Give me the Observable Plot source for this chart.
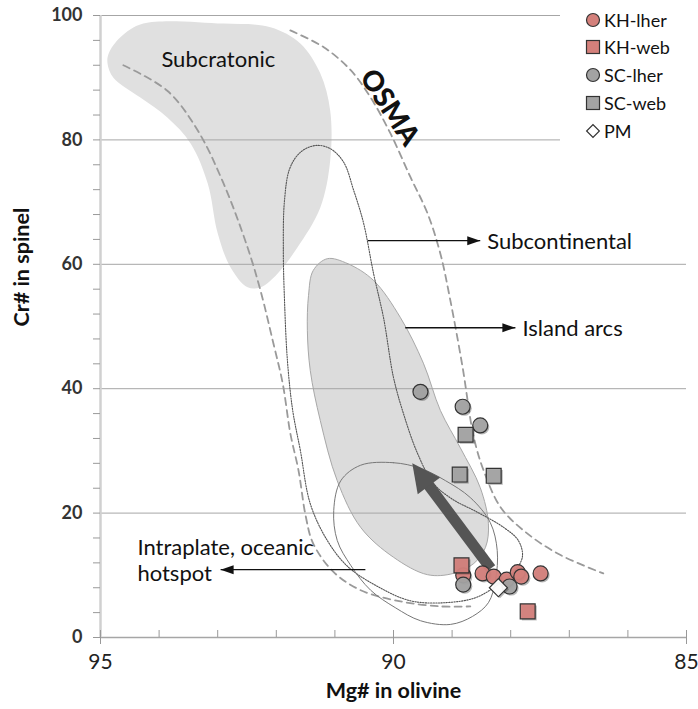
<!DOCTYPE html>
<html><head><meta charset="utf-8">
<script src="https://cdn.jsdelivr.net/npm/d3@7"></script>
<script src="https://cdn.jsdelivr.net/npm/@observablehq/plot@0.6"></script>
<style>
body{margin:0;background:#fff;}
#wrap{position:relative;width:698px;height:709px;font-family:Lato,"Open Sans",sans-serif;}
#legend{position:absolute;left:560px;top:4px;width:126px;height:142px;background:#fff;}
.item{position:absolute;left:24px;height:20px;display:flex;align-items:center;font-size:18px;color:#111;white-space:nowrap;}
.item svg{margin-right:2px;overflow:visible}
</style></head><body><div id="wrap"><div id="legend"></div></div>
<script>
// ---- data (Mg# in olivine, Cr# in spinel) ----
const khLher = [[88.81,10.0],[88.48,10.3],[88.29,9.8],[88.07,9.3],[87.88,10.5],[87.82,9.8],[87.49,10.3]];
const khWeb  = [[88.84,11.6],[87.71,4.2]];
const scLher = [[89.54,39.5],[88.82,37.1],[88.52,34.1],[88.81,8.5],[88.02,8.2]];
const scWeb  = [[88.77,32.6],[88.87,26.2],[88.29,26.0]];
const pm     = [[88.21,8.0]];

// field outlines
const subcratonic = [[94.88,92.3],[94.78,90.0],[94.32,86.8],[93.86,83.6],[93.46,79.4],[93.17,73.0],[93.00,65.0],[92.78,59.5],[92.49,56.3],[92.27,56.3],[91.98,58.5],[91.64,62.7],[91.25,69.1],[91.08,76.7],[91.08,84.7],[91.25,90.7],[91.59,95.5],[92.10,98.1],[92.90,98.7],[94.27,98.7],[94.66,96.5],[94.86,93.9]];
const islandArcs = [[91.13,60.9],[90.78,60.1],[90.34,57.4],[89.88,51.4],[89.49,44.1],[89.20,36.5],[88.86,30.5],[88.52,24.1],[88.38,18.3],[88.43,14.5],[88.63,11.9],[88.98,10.3],[89.42,10.1],[90.00,12.9],[90.56,17.7],[90.96,25.2],[91.25,34.9],[91.42,42.9],[91.47,49.4],[91.45,55.0],[91.37,59.0]];
const subcontinental = [[91.42,21.5],[91.59,30.1],[91.72,36.5],[91.81,44.5],[91.86,54.2],[91.88,62.2],[91.86,70.3],[91.77,75.4],[91.59,78.0],[91.33,79.1],[91.08,78.6],[90.85,76.4],[90.68,71.9],[90.51,66.6],[90.34,58.5],[90.17,51.4],[90.00,41.8],[89.83,36.0],[89.59,29.6],[89.32,24.8],[88.99,22.2],[88.60,20.3],[88.12,17.7],[87.87,15.6],[87.80,13.0],[87.94,10.6],[88.23,8.4],[88.60,6.4],[89.11,5.6],[89.71,5.9],[90.27,8.2],[90.78,11.4],[91.13,15.6]];
const intraplate = [[90.56,27.7],[90.00,28.1],[89.54,27.2],[89.11,25.2],[88.69,22.5],[88.35,18.5],[88.23,14.0],[88.26,9.2],[88.38,5.6],[88.65,3.4],[89.03,2.1],[89.54,2.7],[89.97,4.8],[90.39,7.6],[90.73,11.6],[90.96,15.6],[91.02,20.4],[90.90,25.2]];
const osmaLower = [[94.61,92.0],[93.86,87.9],[93.34,81.5],[92.90,73.0],[92.49,62.7],[92.27,55.8],[92.05,47.3],[91.89,40.8],[91.76,32.8],[91.62,26.8],[91.50,19.6],[91.37,15.1],[91.02,10.5],[90.56,7.6],[89.88,5.8],[89.20,5.0],[88.69,5.0]];
const osmaUpper = [[91.76,97.6],[91.19,94.9],[90.73,91.2],[90.39,86.8],[90.05,81.0],[89.71,74.0],[89.42,68.2],[89.20,61.7],[89.03,54.2],[88.82,43.4],[88.63,32.2],[88.46,26.8],[88.17,20.9],[87.78,17.2],[87.20,13.5],[86.42,10.3]];

// trend arrow (tail -> tip)
const trendArrow = [{x1:88.34, y1:11.1, x2:89.68, y2:28.0}];
// annotation arrows and labels
const pointerArrows = [
  {x1:90.44, y1:63.8, x2:88.52, y2:63.8},
  {x1:89.80, y1:49.8, x2:87.92, y2:49.8},
  {x1:90.48, y1:10.9, x2:92.95, y2:10.9}
];
const fieldLabels = [
  {text:"Subcontinental", x:88.40, y:63.8},
  {text:"Island arcs", x:87.80, y:49.8},
  {text:"Intraplate, oceanic\nhotspot", x:94.37, y:12.5}
];
const subcratonicLabel = [{text:"Subcratonic", x:92.99, y:92.8}];
const osmaLabel = [{text:"OSMA", x:90.07, y:85.2}];

const xTicks = [95, 90, 85];
const xMinor = d3.range(85, 96, 1);
const yTicks = [0, 20, 40, 60, 80, 100];
const yMinor = d3.range(0, 101, 4);

const legendItems = [
  {label:"KH-lher", shape:"circle", fill:"#d4807b"},
  {label:"KH-web", shape:"square", fill:"#d4807b"},
  {label:"SC-lher", shape:"circle", fill:"#a3a3a3"},
  {label:"SC-web", shape:"square", fill:"#a3a3a3"},
  {label:"PM", shape:"diamond", fill:"#ffffff"}
];

// ---- symbols ----
const smallHead = {draw(ctx){ctx.moveTo(0,0);ctx.lineTo(-4.5,13);ctx.lineTo(4.5,13);ctx.closePath();}};
const bigHead = {draw(ctx){ctx.moveTo(0,0);ctx.lineTo(-14,28);ctx.lineTo(14,28);ctx.closePath();}};

const px = d => d[0], py = d => d[1];
const red = "#d4807b", gray = "#a3a3a3", edge = "#333";

function series(data, symbol, fill, r, rotate) {
  return [
    Plot.dot(data, {x:px, y:py, symbol, r, rotate, dx:1.6, dy:1.6, fill:"#000", fillOpacity:0.28, stroke:"none"}),
    Plot.dot(data, {x:px, y:py, symbol, r, rotate, fill, fillOpacity:0.95, stroke:edge, strokeWidth:1.2})
  ];
}

const neck = trendArrow.map(a => ({x1:a.x1, y1:a.y1, x2:a.x1+(a.x2-a.x1)*0.8, y2:a.y1+(a.y2-a.y1)*0.8}));

const chart = Plot.plot({
  width: 698, height: 709,
  marginLeft: 100, marginRight: 12, marginTop: 15, marginBottom: 72,
  x: {domain: [95, 85], label: null},
  y: {domain: [0, 100], label: null},
  style: {fontFamily: "Lato, 'Open Sans', sans-serif", background: "#fff", overflow: "visible"},
  marks: [
    Plot.line(subcratonic, {x:px, y:py, curve:"catmull-rom-closed", fill:"#e0e0e0", stroke:"none"}),
    Plot.line(islandArcs, {x:px, y:py, curve:"catmull-rom-closed", fill:"#dcdcdc", stroke:"#a8a8a8", strokeWidth:1}),
    Plot.gridY(yTicks.filter(d => d > 0), {stroke:"#a6a6a6", strokeOpacity:1, strokeWidth:1}),
    Plot.ruleY([0], {stroke:"#a6a6a6", strokeWidth:1.5}),
    Plot.ruleX([95], {stroke:"#d0d0d0", strokeWidth:2.5}),
    Plot.line(osmaLower, {x:px, y:py, curve:"catmull-rom", stroke:"#9a9a9a", strokeWidth:1.8, strokeDasharray:"7,5"}),
    Plot.line(osmaUpper, {x:px, y:py, curve:"catmull-rom", stroke:"#9a9a9a", strokeWidth:1.8, strokeDasharray:"7,5"}),
    Plot.line(subcontinental, {x:px, y:py, curve:"catmull-rom-closed", stroke:"#555", strokeWidth:1.1, strokeDasharray:"1.3,1.3"}),
    Plot.line(intraplate, {x:px, y:py, curve:"catmull-rom-closed", stroke:"#777", strokeWidth:1}),
    // trend arrow
    Plot.link(neck, {x1:"x1", y1:"y1", x2:"x2", y2:"y2", stroke:"#555", strokeWidth:11}),
    Plot.dot(trendArrow, {x:"x2", y:"y2", symbol:bigHead, rotate:-36.6, fill:"#555", stroke:"none"}),
    // pointers
    Plot.link(pointerArrows, {x1:"x1", y1:"y1", x2:"x2", y2:"y2", stroke:"#111", strokeWidth:1.3}),
    Plot.dot(pointerArrows, {x:"x2", y:"y2", symbol:smallHead, rotate:d => d.x2 < d.x1 ? 90 : -90, fill:"#111", stroke:"none"}),
    // samples
    ...series(khLher, "circle", red, 7.5),
    ...series(khWeb, "square", red, 8.4),
    ...series(scLher, "circle", gray, 7.5),
    ...series(scWeb, "square", gray, 8.4),
    ...series(pm, "square", "#fff", 7.2, 45),
    // labels
    Plot.text(fieldLabels, {x:"x", y:"y", text:"text", textAnchor:"start", fontSize:22, fill:"#111", lineHeight:1.15}),
    Plot.text(subcratonicLabel, {x:"x", y:"y", text:"text", fontSize:22, fill:"#111"}),
    Plot.text(osmaLabel, {x:"x", y:"y", text:"text", rotate:57, fontSize:28, fontWeight:"900", fill:"#111"}),
    // axes
    Plot.axisX({ticks:xMinor, tickSize:-7, tickFormat:() => "", stroke:"#999", strokeOpacity:1}),
    Plot.axisX({ticks:xTicks, tickSize:7, tickPadding:10, fontSize:21, fill:"#222", stroke:"#999", strokeOpacity:1, label:null}),
    Plot.axisY({ticks:yMinor, tickSize:7, tickFormat:() => "", stroke:"#999", strokeOpacity:1}),
    Plot.axisY({ticks:yTicks, tickSize:0, tickPadding:18, fontSize:18, fontWeight:"bold", fill:"#333", label:null}),
    Plot.text(["Mg# in olivine"], {text:d => d, frameAnchor:"bottom", dy:60, fontSize:21.5, fontWeight:"bold", fill:"#111"}),
    Plot.text(["Cr# in spinel"], {text:d => d, frameAnchor:"left", dx:-78, rotate:-90, fontSize:21.5, fontWeight:"bold", fill:"#111"})
  ]
});
const wrap = document.getElementById("wrap");
wrap.insertBefore(chart, wrap.firstChild);

// legend
const legend = document.getElementById("legend");
const centers = [16, 43, 71, 99, 127];
legendItems.forEach((it, i) => {
  const div = document.createElement("div");
  div.className = "item";
  div.style.top = (centers[i] - 10) + "px";
  let shape;
  if (it.shape === "circle") shape = `<circle cx="9" cy="10" r="6.5" fill="${it.fill}" stroke="#333" stroke-width="1.2"/>`;
  else if (it.shape === "square") shape = `<rect x="2.5" y="3.5" width="13" height="13" fill="${it.fill}" stroke="#333" stroke-width="1.2"/>`;
  else shape = `<rect x="4.5" y="5.5" width="9" height="9" fill="#fff" stroke="#333" stroke-width="1.2" transform="rotate(45 9 10)"/>`;
  div.innerHTML = `<svg width="18" height="20">${shape}</svg><span>${it.label}</span>`;
  legend.appendChild(div);
});
</script></body></html>
